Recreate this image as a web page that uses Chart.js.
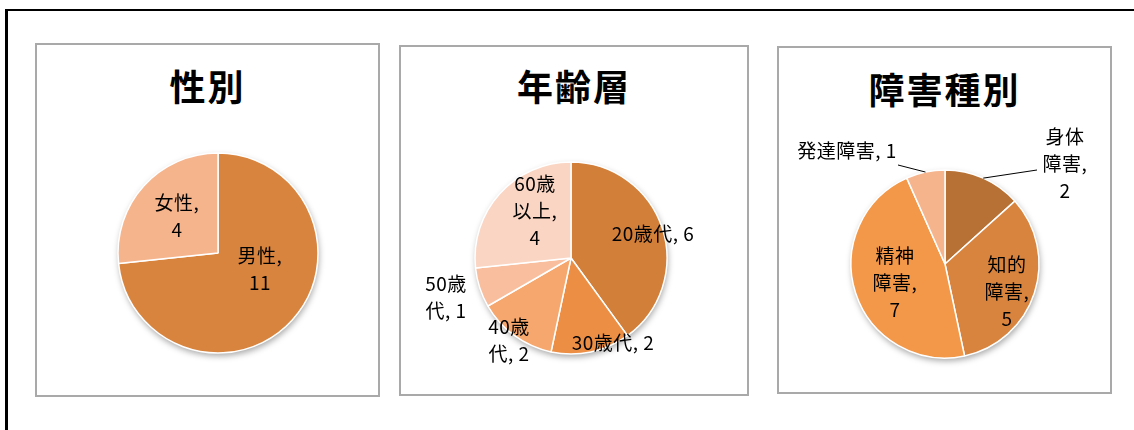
<!DOCTYPE html>
<html><head><meta charset="utf-8">
<script src="https://cdn.jsdelivr.net/npm/chart.js@4/dist/chart.umd.min.js"></script>
<style>
html,body{margin:0;padding:0;background:#fff;width:1134px;height:430px;overflow:hidden;}
#outer{position:absolute;left:5px;top:9px;width:1200px;height:500px;border-left:3px solid #000;border-top:2px solid #000;}
.box{position:absolute;border:2px solid #a9a9a9;box-sizing:border-box;background:#fff;}
.box canvas{position:absolute;left:0;top:0;}
.title{position:absolute;left:0;width:100%;text-align:center;font-family:"Noto Sans CJK JP","Noto Sans",sans-serif;font-weight:bold;font-size:36px;line-height:40px;color:#000;letter-spacing:2px;}
</style></head><body>
<div id="outer"></div>
<script>
// ---- data ----
const genderTitle = '性別';
const genderLabels = ['男性', '女性'];
const genderValues = [11, 4];
const genderColors = ['#D9843E', '#F6B48D'];

const ageTitle = '年齢層';
const ageLabels = ['20歳代', '30歳代', '40歳代', '50歳代', '60歳以上'];
const ageValues = [6, 2, 2, 1, 4];
const ageColors = ['#D27F3A', '#EC8F45', '#F5A76E', '#F8BE9D', '#FAD5C3'];

const typeTitle = '障害種別';
const typeLabels = ['身体障害', '知的障害', '精神障害', '発達障害'];
const typeValues = [2, 5, 7, 1];
const typeColors = ['#B87134', '#D9843E', '#F39848', '#F6B48D'];

// ---- layout (positions only) ----
const charts = [
  { title: genderTitle, labels: genderLabels, values: genderValues, colors: genderColors,
    box: {x: 35, y: 43, w: 345, h: 354}, titleY: 63, c: {x: 218, y: 253}, r: 100,
    lab: [ {dx: 42, dy: 16, br: [3]}, {dx: -41, dy: -37, br: [3]} ] },
  { title: ageTitle, labels: ageLabels, values: ageValues, colors: ageColors,
    box: {x: 399, y: 45, w: 350, h: 351}, titleY: 63, c: {x: 571, y: 258}, r: 96,
    lab: [ {dx: 82, dy: -24, br: []}, {dx: 42, dy: 85, br: []}, {dx: -62, dy: 82, br: [3]},
           {dx: -125, dy: 39, br: [3]}, {dx: -36, dy: -47, br: [3, 6]} ] },
  { title: typeTitle, labels: typeLabels, values: typeValues, colors: typeColors,
    box: {x: 777, y: 46, w: 335, h: 348}, titleY: 66, c: {x: 945, y: 264}, r: 94,
    lab: [ {dx: 120, dy: -100, br: [2, 5], lead: {x: 92, y: -94}},
           {dx: 62, dy: 28, br: [2, 5]}, {dx: -50, dy: 19, br: [2, 5]},
           {dx: -98, dy: -113, br: [], lead: {x: -47, y: -99}} ] }
];

const FONT = '"Noto Sans CJK JP","Noto Sans",sans-serif';

const shadowPlugin = {
  id: 'pieShadow',
  beforeDatasetsDraw(chart) {
    const arc = chart.getDatasetMeta(0).data[0];
    if (!arc) return;
    const ctx = chart.ctx;
    ctx.save();
    ctx.shadowColor = 'rgba(0,0,0,0.35)';
    ctx.shadowBlur = 6;
    ctx.shadowOffsetX = 1;
    ctx.shadowOffsetY = 3;
    ctx.fillStyle = '#fff';
    ctx.beginPath();
    ctx.arc(arc.x, arc.y, arc.outerRadius, 0, Math.PI * 2);
    ctx.fill();
    ctx.restore();
  }
};

const labelPlugin = {
  id: 'sliceLabels',
  afterDatasetsDraw(chart, args, opts) {
    const cfg = opts.cfg;
    const ctx = chart.ctx;
    const meta = chart.getDatasetMeta(0);
    ctx.save();
    ctx.font = '19px ' + FONT;
    try { ctx.letterSpacing = '0.5px'; } catch (e) {}
    ctx.fillStyle = '#000';
    ctx.textAlign = 'center';
    ctx.textBaseline = 'middle';
    meta.data.forEach((arc, i) => {
      const L = cfg.lab[i];
      const text = chart.data.labels[i] + ', ' + chart.data.datasets[0].data[i];
      const lines = [];
      let prev = 0;
      L.br.forEach(b => { lines.push(text.slice(prev, b).trim()); prev = b; });
      lines.push(text.slice(prev).trim());
      const lx = arc.x + L.dx, ly = arc.y + L.dy;
      const lh = 27;
      lines.forEach((ln, k) => {
        ctx.fillText(ln, lx, ly + (k - (lines.length - 1) / 2) * lh);
      });
      if (L.lead) {
        const mid = (arc.startAngle + arc.endAngle) / 2;
        const sx = arc.x + Math.cos(mid) * arc.outerRadius;
        const sy = arc.y + Math.sin(mid) * arc.outerRadius;
        ctx.strokeStyle = '#000';
        ctx.lineWidth = 1;
        ctx.beginPath();
        ctx.moveTo(sx, sy);
        ctx.lineTo(arc.x + L.lead.x, arc.y + L.lead.y);
        ctx.stroke();
      }
    });
    ctx.restore();
  }
};

charts.forEach((cfg, idx) => {
  const box = document.createElement('div');
  box.className = 'box';
  box.style.left = cfg.box.x + 'px';
  box.style.top = cfg.box.y + 'px';
  box.style.width = cfg.box.w + 'px';
  box.style.height = cfg.box.h + 'px';
  document.body.appendChild(box);
  const t = document.createElement('div');
  t.className = 'title';
  t.textContent = cfg.title;
  t.style.top = (cfg.titleY - cfg.box.y) + 'px';
  box.appendChild(t);
  const cv = document.createElement('canvas');
  const W = cfg.box.w - 4, H = cfg.box.h - 4;
  cv.width = W; cv.height = H;
  cv.style.left = '0px'; cv.style.top = '0px';
  box.appendChild(cv);
  const ox = cfg.box.x + 2, oy = cfg.box.y + 2;
  const cx = cfg.c.x - ox, cy = cfg.c.y - oy, r = cfg.r;
  new Chart(cv, {
    type: 'pie',
    data: {
      labels: cfg.labels,
      datasets: [{ data: cfg.values, backgroundColor: cfg.colors, borderColor: '#ffffff', borderWidth: 1.5, hoverOffset: 0 }]
    },
    options: {
      responsive: false,
      animation: false,
      radius: r,
      layout: { padding: { left: cx - r, top: cy - r, right: W - cx - r, bottom: H - cy - r } },
      plugins: { legend: { display: false }, tooltip: { enabled: false }, title: { display: false },
                 sliceLabels: { cfg: cfg } },
      events: []
    },
    plugins: [shadowPlugin, labelPlugin]
  });
});
</script>
</body></html>
